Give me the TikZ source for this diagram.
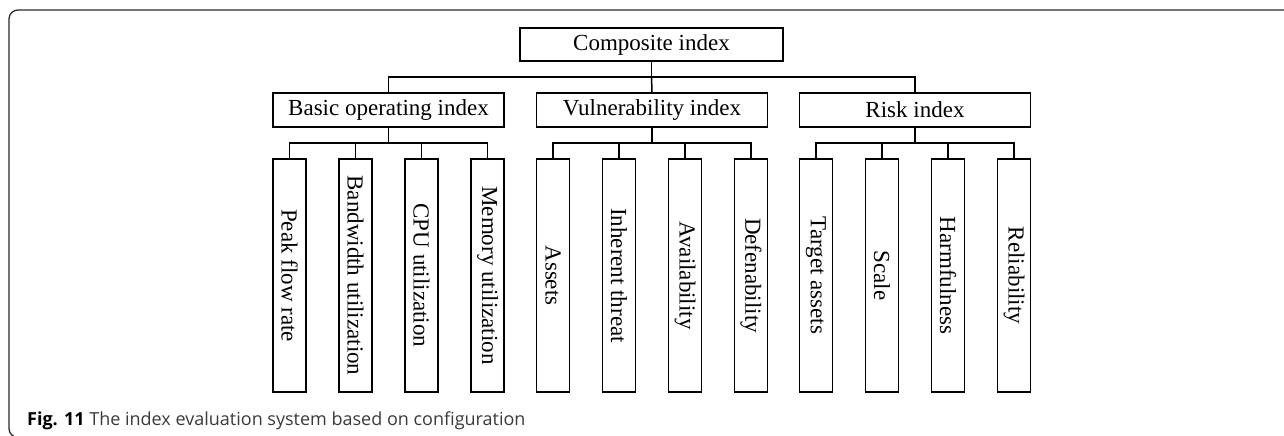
\documentclass[tikz,border=0pt]{standalone}
\usepackage{fontspec}
\setmainfont{Liberation Serif}
\newfontfamily\capfont{Open Sans}
\definecolor{capgray}{HTML}{3A3A3A}
\definecolor{framegray}{HTML}{2A2A2A}
\begin{document}
\begin{tikzpicture}[x=1pt,y=-1pt,
  box/.style={draw, line width=1.4pt, inner sep=0pt, font=\fontsize{23}{27}\selectfont},
  topbox/.style={box, minimum width=263pt, minimum height=33pt},
  midbox/.style={box, minimum width=231pt, minimum height=34pt},
  leaf/.style={box, minimum width=33pt, minimum height=233pt},
  wire/.style={line width=1.5pt}]
\useasboundingbox (0,0) rectangle (1284,436);
\begin{scope}
\clip (0,0) rectangle (1284,436);
\draw[framegray, line width=1.3pt, rounded corners=9pt] (1300,10) -- (9,10) -- (9,437.5) -- (1300,437.5);
\end{scope}

\node[topbox] (comp) at (651.5,44.5) {Composite index};
\node[midbox] (basic) at (388.5,110) {Basic operating index};
\node[midbox] (vuln) at (652,110) {Vulnerability index};
\node[midbox] (risk) at (915,110) {Risk index};

\foreach \p/\i/\t in {basic/1/Peak flow rate, basic/2/Bandwidth utilization, basic/3/CPU utilization, basic/4/Memory utilization,
  vuln/1/Assets, vuln/2/Inherent threat, vuln/3/Availability, vuln/4/Defenability,
  risk/1/Target assets, risk/2/Scale, risk/3/Harmfulness, risk/4/Reliability}{
  \path (\p.center) ++({-99+66*(\i-1)},0) coordinate (tmp);
  \node[leaf] (\p\i) at (tmp |- 0,275.5) {\rotatebox{-90}{\t}};
}

\coordinate (j0) at (comp.south |- 0,77);
\draw[wire] (comp.south) -- (j0);
\draw[wire] (basic.north) |- (j0) -| (risk.north);
\draw[wire] (j0) -- (vuln.north);

\foreach \p in {basic,vuln,risk}{
  \coordinate (j\p) at (\p.south |- 0,143);
  \draw[wire] (\p.south) -- (j\p);
  \draw[wire] (\p1.north) |- (j\p) -| (\p4.north);
  \draw[wire] (\p2.north) -- (\p2.north |- j\p);
  \draw[wire] (\p3.north) -- (\p3.north |- j\p);
}

\node[anchor=base west, inner sep=0pt, font=\capfont\fontsize{18}{21}\selectfont, text=capgray] (cap) at (27,425)
  {\textbf{\color{black}Fig. 11} The index evaluation system based on configuration};
\end{tikzpicture}
\end{document}
